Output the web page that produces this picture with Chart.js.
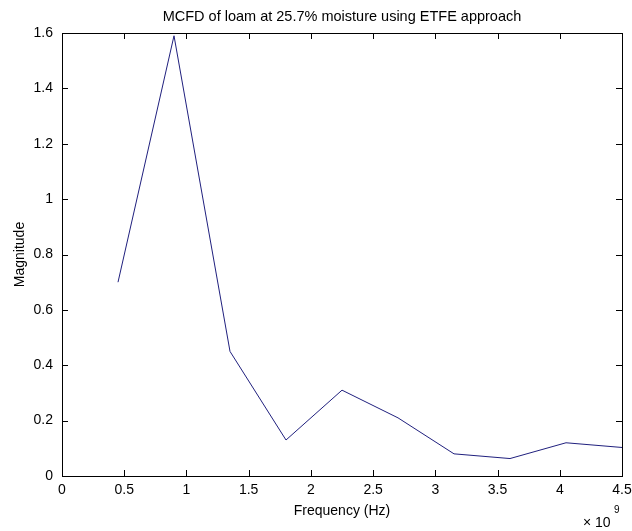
<!DOCTYPE html>
<html>
<head>
<meta charset="utf-8">
<script src="https://cdn.jsdelivr.net/npm/chart.js"></script>
<style>
  html, body { margin: 0; padding: 0; background: #fff; }
</style>
</head>
<body>
<canvas id="chart" width="632" height="531"></canvas>
<script>
// frequency in Hz, magnitude
const freqs = [0.45e9, 0.9e9, 1.35e9, 1.8e9, 2.25e9, 2.7e9, 3.15e9, 3.6e9, 4.05e9, 4.5e9];
const magnitude = [0.70, 1.59, 0.45, 0.13, 0.31, 0.21, 0.08, 0.063, 0.12, 0.103];
const yTicks = [0, 0.2, 0.4, 0.6, 0.8, 1, 1.2, 1.4, 1.6];
const titleText = "MCFD of loam at 25.7% moisture using ETFE approach";

const font = "'Liberation Sans', Arial, sans-serif";

// matlab style box: inward ticks on all four sides, title over the axes, exponent label
const boxTicks = {
  id: "boxTicks",
  afterDraw(chart) {
    const ctx = chart.ctx;
    const a = chart.chartArea;
    const xs = chart.scales.x, ys = chart.scales.y;
    const len = 6;
    ctx.save();
    ctx.strokeStyle = "#000";
    ctx.lineWidth = 1;
    ctx.strokeRect(Math.round(a.left) + 0.5, Math.round(a.top) + 0.5,
      Math.round(a.right - a.left), Math.round(a.bottom - a.top));
    ctx.beginPath();
    xs.ticks.forEach(t => {
      const px = Math.round(xs.getPixelForValue(t.value)) + 0.5;
      ctx.moveTo(px, a.bottom); ctx.lineTo(px, a.bottom - len);
      ctx.moveTo(px, a.top); ctx.lineTo(px, a.top + len);
    });
    ys.ticks.forEach(t => {
      const py = Math.round(ys.getPixelForValue(t.value)) + 0.5;
      ctx.moveTo(a.left, py); ctx.lineTo(a.left + len, py);
      ctx.moveTo(a.right, py); ctx.lineTo(a.right - len, py);
    });
    ctx.stroke();

    ctx.fillStyle = "#000";
    ctx.textBaseline = "middle";
    ctx.textAlign = "center";
    ctx.font = "14.5px " + font;
    ctx.fillText(titleText, (a.left + a.right) / 2, 17);

    ctx.textAlign = "left";
    ctx.font = "14px " + font;
    ctx.fillText("\u00d7 10", 583, 523);
    ctx.font = "10px " + font;
    ctx.fillText("9", 614, 510);
    ctx.restore();
  }
};

new Chart(document.getElementById("chart"), {
  type: "line",
  data: {
    datasets: [{
      data: freqs.map((f, i) => ({ x: f, y: magnitude[i] })),
      borderColor: "#20207e",
      borderWidth: 1,
      pointRadius: 0,
      tension: 0,
      fill: false,
    }],
  },
  options: {
    responsive: false,
    animation: false,
    devicePixelRatio: 1,
    layout: { padding: { top: 33, right: 10, left: 0, bottom: 0 } },
    plugins: {
      legend: { display: false },
      tooltip: { enabled: false },
      title: { display: false },
    },
    scales: {
      x: {
        type: "linear",
        min: 0,
        max: 4.5e9,
        afterFit(scale) {
          scale.height = 55;
          scale.paddingLeft = 0;
          scale.paddingRight = 0;
        },
        grid: { display: false, drawTicks: false },
        border: { display: true, color: "#000" },
        ticks: {
          stepSize: 0.5e9,
          color: "#000",
          padding: 6,
          maxRotation: 0,
          autoSkip: false,
          font: { family: font, size: 14 },
          callback: v => String(v / 1e9),
        },
        title: {
          display: true,
          text: "Frequency (Hz)",
          color: "#000",
          font: { family: font, size: 14 },
          padding: { top: 0, bottom: 11.6 },
        },
      },
      y: {
        min: 0,
        max: 1.6,
        afterFit(scale) { scale.width = 62; },
        afterBuildTicks(scale) { scale.ticks = yTicks.map(v => ({ value: v })); },
        grid: { display: false, drawTicks: false },
        border: { display: true, color: "#000" },
        ticks: {
          color: "#000",
          padding: 9,
          autoSkip: false,
          font: { family: font, size: 14 },
          callback: v => String(v),
        },
        title: {
          display: true,
          text: "Magnitude",
          color: "#000",
          font: { family: font, size: 14 },
          padding: { top: 11.6, bottom: 0 },
        },
      },
    },
  },
  plugins: [boxTicks, {
    id: "bg",
    beforeDraw(chart) {
      const c = chart.ctx;
      c.save();
      c.fillStyle = "#fff";
      c.fillRect(0, 0, chart.width, chart.height);
      c.restore();
    }
  }],
});
</script>
</body>
</html>
